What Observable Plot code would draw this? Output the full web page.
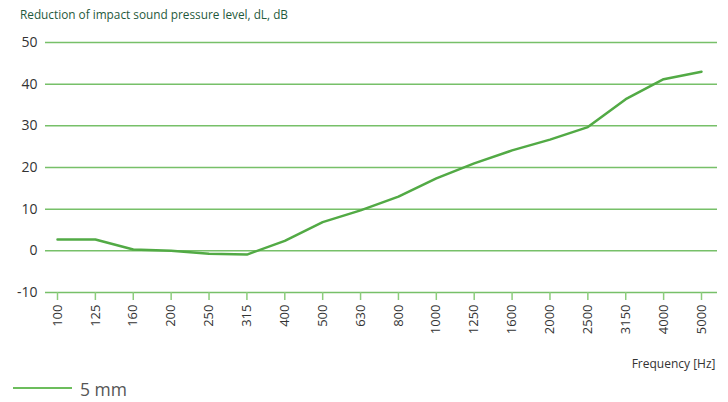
<!DOCTYPE html>
<html>
<head>
<meta charset="utf-8">
<script src="https://cdn.jsdelivr.net/npm/d3@7"></script>
<script src="https://cdn.jsdelivr.net/npm/@observablehq/plot@0.6"></script>
<style>
  body { margin: 0; background: #fff; font-family: "Open Sans", "Noto Sans", sans-serif; }
  #title { height: 30px; box-sizing: border-box; padding: 6px 0 0 20px; font-size: 11.8px; color: #1f5a3c; }
  #legend { position: relative; height: 27px; }
  #legend .sw { position: absolute; left: 13px; top: 12px; width: 59px; height: 2px; background: #6cbd5c; }
  #legend .lb { position: absolute; left: 80px; top: 2px; font-size: 17.5px; color: #555; }
</style>
</head>
<body>
<div id="title">Reduction of impact sound pressure level, dL, dB</div>
<div id="chart"></div>
<div id="legend"><div class="sw"></div><div class="lb">5 mm</div></div>
<script>
const frequencies = ["100","125","160","200","250","315","400","500","630","800","1000","1250","1600","2000","2500","3150","4000","5000"];
const values5mm = [2.7, 2.7, 0.3, 0.0, -0.7, -0.9, 2.4, 6.9, 9.7, 13.0, 17.4, 21.0, 24.1, 26.7, 29.7, 36.4, 41.2, 43.0];
const yTicks = [-10, 0, 10, 20, 30, 40, 50];

const data = frequencies.map((f, i) => ({f, v: values5mm[i]}));

const chart = Plot.plot({
  width: 728,
  height: 345,
  marginLeft: 45,
  marginRight: 11,
  marginTop: 12,
  marginBottom: 83,
  style: {fontFamily: '"Open Sans", "Noto Sans", sans-serif', background: "#fff"},
  x: {type: "point", domain: frequencies, range: [57, 701], padding: 1e-6, round: false},
  y: {domain: [-10, 50]},
  marks: [
    Plot.ruleY(yTicks, {stroke: "#77c069", strokeWidth: 1.5}),
    Plot.axisY({ticks: yTicks, tickSize: 0, tickPadding: 8, fontSize: 14, fill: "#333", label: null, tickFormat: d => String(d)}),
    Plot.axisX({tickRotate: -90, tickSize: 8, tickPadding: 4, stroke: "#8ccc7c", strokeWidth: 1.5, fontSize: 13, fill: "#333", label: null}),
    Plot.line(data, {x: "f", y: "v", stroke: "#52aa45", strokeWidth: 2.5}),
    Plot.text(["Frequency [Hz]"], {frameAnchor: "bottom-right", dy: 75, dx: -2, fontSize: 12, fill: "#333", textAnchor: "end"})
  ]
});
document.getElementById("chart").appendChild(chart);
</script>
</body>
</html>
